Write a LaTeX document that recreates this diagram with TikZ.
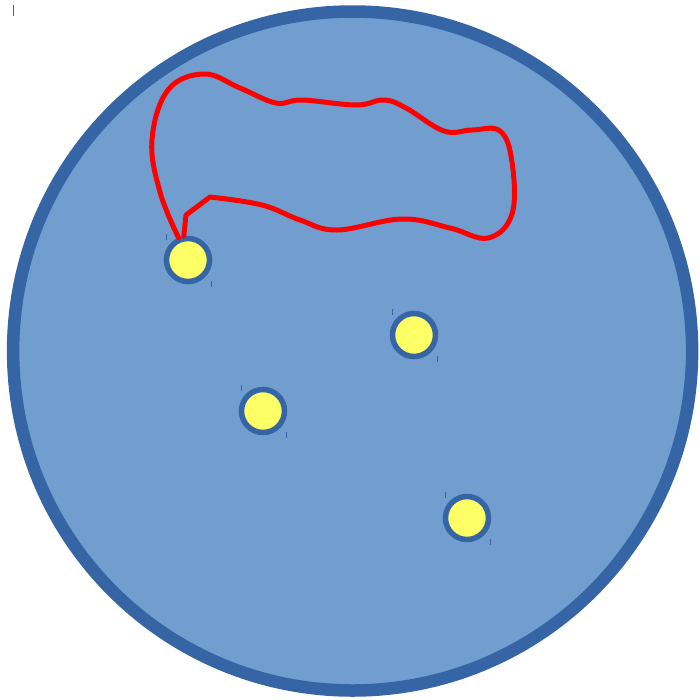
\documentclass[tikz,border=0pt]{standalone}
\usepackage{tikz}
\usetikzlibrary{calc}

\definecolor{dishfill}{RGB}{113,158,207}
\definecolor{dishrim}{RGB}{54,101,165}
\definecolor{spotfill}{RGB}{255,255,102}

\begin{document}
\begin{tikzpicture}[x=1pt, y=-1pt,
    dish/.style={circle, draw=dishrim, fill=dishfill, line width=12.5pt, inner sep=0pt, minimum size=679pt},
    spot/.style={circle, draw=dishrim, fill=spotfill, line width=5.5pt, inner sep=0pt, minimum size=43pt},
    tickmark/.style={draw=dishrim, line width=0.8pt},
    trail/.style={draw=red, line width=5pt, line join=round, line cap=round}]

\useasboundingbox (0,0) rectangle (700,699);

% the dish
\node [dish] (dish) at (352.6,351) {};
\draw [tickmark] (13,5) -- (13,16);

% the spots
\foreach \name / \x / \y in {s1/188/260, s2/414/335, s3/263/411, s4/467/518}{
    \node [spot] (\name) at (\x,\y) {};
    \draw [tickmark] ($(\name)+(-22,-26)$) -- ++(0,6);
    \draw [tickmark] ($(\name)+(23,21)$) -- ++(0,6);
}

% the path walked from the first spot
\draw [trail] plot [smooth, tension=0.65] coordinates {(s1.113) (160,192) (152,140) (168,90) (204,74) (240,88)
    (276,103) (302,100) (356,105) (384,100) (406,108) (444,131) (472,130) (500,131) (512,162) (512,214)
    (488,238) (450,228) (402,219) (337,230) (300,220) (262,205) (210,197)}
    -- (186,215) -- (s1.100);

\end{tikzpicture}
\end{document}
